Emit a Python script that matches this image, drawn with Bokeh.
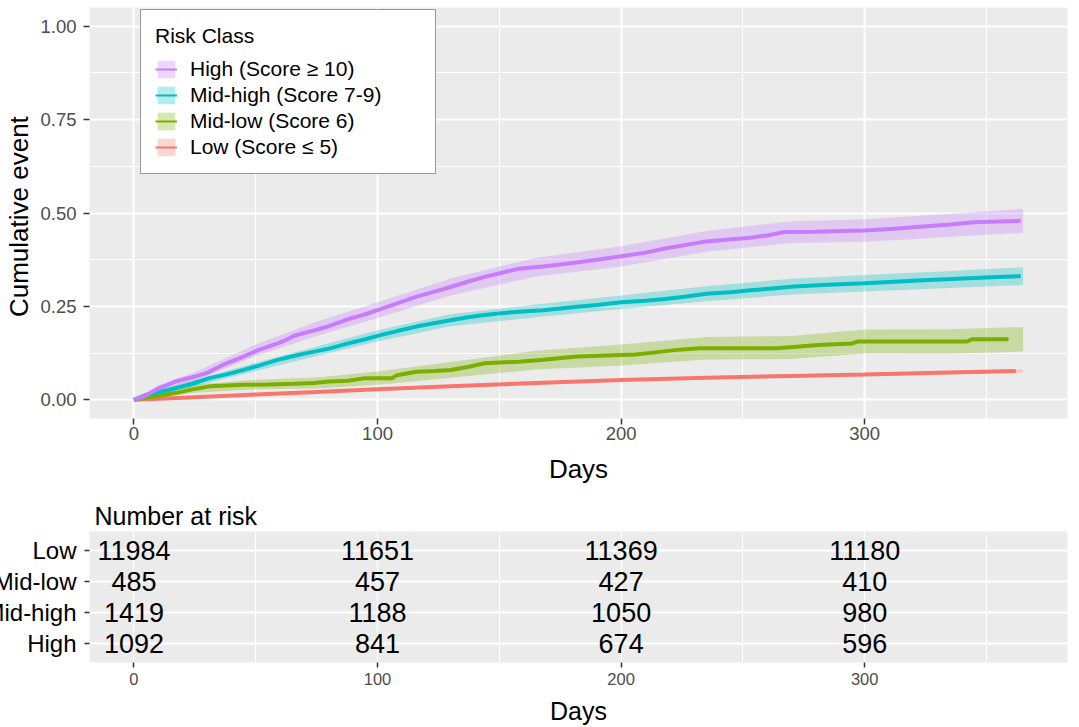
from bokeh.plotting import figure
from bokeh.models import (Range1d, FixedTicker, Legend, LegendItem, FactorRange,
                          ColumnDataSource, NumeralTickFormatter)
from bokeh.layouts import column
from bokeh.embed import file_html
from bokeh.resources import INLINE
from bokeh.core.properties import value

FONT = "Liberation Sans"

# ---------------- data ----------------
group_labels = ["High (Score ≥ 10)", "Mid-high (Score 7-9)", "Mid-low (Score 6)", "Low (Score ≤ 5)"]
group_colors = ["#C77CFF", "#00BFC4", "#7CAE00", "#F8766D"]

high_days = [0, 5, 10, 17, 25, 30, 37, 44, 51, 59, 63, 66, 74, 80, 88, 95, 100, 108, 116, 123,
             130, 137, 144, 151, 158, 168, 180, 190, 200, 210, 218, 226, 235, 245, 253, 260, 267,
             280, 290, 300, 312, 324, 335, 345, 355, 364]
high_est = [0, 0.012, 0.03, 0.049, 0.062, 0.072, 0.095, 0.113, 0.133, 0.151, 0.162, 0.172, 0.186,
            0.197, 0.216, 0.229, 0.240, 0.258, 0.276, 0.289, 0.302, 0.316, 0.329, 0.340, 0.351,
            0.357, 0.366, 0.375, 0.384, 0.394, 0.405, 0.414, 0.424, 0.430, 0.434, 0.440, 0.449,
            0.450, 0.452, 0.453, 0.458, 0.464, 0.469, 0.475, 0.477, 0.479]

midhigh_days = [0, 5, 10, 17, 24, 31, 38, 45, 52, 59, 66, 74, 80, 88, 95, 100, 108, 116, 123, 130,
                137, 144, 151, 158, 168, 182, 190, 200, 210, 218, 226, 235, 245, 253, 262, 271,
                285, 300, 312, 324, 338, 352, 364]
midhigh_est = [0, 0.013, 0.02, 0.031, 0.043, 0.058, 0.068, 0.08, 0.093, 0.107, 0.118, 0.129, 0.137,
               0.151, 0.162, 0.171, 0.184, 0.196, 0.205, 0.213, 0.221, 0.227, 0.232, 0.236, 0.240,
               0.249, 0.254, 0.261, 0.265, 0.270, 0.276, 0.284, 0.288, 0.293, 0.298, 0.303, 0.308,
               0.312, 0.316, 0.320, 0.324, 0.328, 0.331]

midlow_days = [0, 8, 17, 24, 31, 38, 45, 55, 66, 74, 80, 88, 95, 106, 108, 116, 123, 130, 137, 144,
               158, 168, 182, 200, 206, 214, 222, 232, 250, 264, 272, 281, 295, 297, 300, 342, 344, 359]
midlow_est = [0, 0.008, 0.018, 0.028, 0.036, 0.038, 0.04, 0.041, 0.043, 0.045, 0.049, 0.051, 0.058,
              0.058, 0.066, 0.075, 0.077, 0.08, 0.088, 0.098, 0.102, 0.107, 0.116, 0.12, 0.121,
              0.127, 0.133, 0.138, 0.138, 0.138, 0.142, 0.147, 0.151, 0.156, 0.156, 0.156, 0.162, 0.162]

low_days = [0, 25, 50, 75, 100, 130, 165, 200, 235, 270, 300, 335, 362]
low_est = [0, 0.007, 0.014, 0.021, 0.028, 0.036, 0.045, 0.053, 0.059, 0.064, 0.068, 0.073, 0.077]

band_days = [0, 10, 25, 50, 75, 100, 130, 165, 200, 235, 270, 300, 335, 365]
high_lo = [0, 0.022, 0.050, 0.117, 0.171, 0.219, 0.279, 0.330, 0.357, 0.396, 0.420, 0.423, 0.436, 0.447]
high_hi = [0, 0.038, 0.074, 0.149, 0.209, 0.261, 0.325, 0.380, 0.411, 0.452, 0.478, 0.483, 0.498, 0.511]
midhigh_lo = [0, 0.014, 0.036, 0.077, 0.117, 0.156, 0.197, 0.221, 0.243, 0.264, 0.282, 0.290, 0.299, 0.307]
midhigh_hi = [0, 0.026, 0.054, 0.099, 0.143, 0.186, 0.229, 0.255, 0.279, 0.304, 0.324, 0.334, 0.345, 0.355]
midlow_lo = [0, 0.006, 0.019, 0.028, 0.030, 0.040, 0.059, 0.081, 0.092, 0.108, 0.109, 0.124, 0.123, 0.129]
midlow_hi = [0, 0.018, 0.041, 0.054, 0.060, 0.076, 0.101, 0.131, 0.148, 0.168, 0.171, 0.188, 0.189, 0.195]
low_lo = [0, 0.002, 0.005, 0.012, 0.018, 0.025, 0.033, 0.042, 0.050, 0.055, 0.060, 0.064, 0.069, 0.073]
low_hi = [0, 0.004, 0.009, 0.016, 0.024, 0.031, 0.039, 0.048, 0.056, 0.063, 0.068, 0.072, 0.077, 0.081]

x_ticks = [0, 100, 200, 300]
x_minor = [50, 150, 250, 350]
y_ticks = [0, 0.25, 0.5, 0.75, 1.0]
y_minor = [0.125, 0.375, 0.625, 0.875]

risk_days = [0, 100, 200, 300]
risk_rows = ["Low", "Mid-low", "Mid-high", "High"]
risk_low = [11984, 11651, 11369, 11180]
risk_midlow = [485, 457, 427, 410]
risk_midhigh = [1419, 1188, 1050, 980]
risk_high = [1092, 841, 674, 596]

X0, X1 = -18.25, 383.25
BG = "#EBEBEB"
TICKCOL = "#4D4D4D"
W = 1093
LEFT = 108
RIGHT = 7


def style_axes(p):
    for ax in (p.xaxis[0], p.yaxis[0]):
        ax.axis_line_color = None
        ax.major_tick_line_color = "#333333"
        ax.major_tick_line_width = 1.5
        ax.major_tick_in = 0
        ax.major_tick_out = 6
        ax.minor_tick_line_color = None
        ax.major_label_text_font = FONT
        ax.major_label_text_color = TICKCOL
        ax.axis_label_text_font = FONT
        ax.axis_label_text_font_style = "normal"
        ax.axis_label_text_color = "black"
    for g in (p.xgrid[0], p.ygrid[0]):
        g.grid_line_color = "white"
        g.grid_line_width = 2
        g.minor_grid_line_color = "white"
        g.minor_grid_line_width = 1


# ---------------- cumulative event panel ----------------
p = figure(width=W, height=498, output_backend="svg", toolbar_location=None,
           x_range=Range1d(X0, X1), y_range=Range1d(-0.05, 1.05),
           min_border_left=LEFT, min_border_right=RIGHT, min_border_top=7, min_border_bottom=80,
           background_fill_color=BG, border_fill_color="white", outline_line_color=None)
p.xaxis.ticker = FixedTicker(ticks=x_ticks, minor_ticks=x_minor)
p.yaxis.ticker = FixedTicker(ticks=y_ticks, minor_ticks=y_minor)
p.yaxis.formatter = NumeralTickFormatter(format="0.00")
style_axes(p)
p.xaxis.major_label_text_font_size = "18.5px"
p.yaxis.major_label_text_font_size = "18.5px"
p.xaxis.axis_label = "Days"
p.xaxis.axis_label_text_font_size = "26px"
p.xaxis.major_label_standoff = 2
p.xaxis.axis_label_standoff = 11
p.yaxis.axis_label = "Cumulative  event"
p.yaxis.axis_label_text_font_size = "26px"
p.yaxis.major_label_standoff = 7
p.yaxis.axis_label_standoff = 3

series = [
    (high_days, high_est, high_lo, high_hi),
    (midhigh_days, midhigh_est, midhigh_lo, midhigh_hi),
    (midlow_days, midlow_est, midlow_lo, midlow_hi),
    (low_days, low_est, low_lo, low_hi),
]
bands = {}
keys = {}
order = [3, 2, 1, 0]
for i in order:
    d, e, lo, hi = series[i]
    bands[i] = p.varea(x=band_days, y1=lo, y2=hi, fill_color=group_colors[i], fill_alpha=0.3)
for i in order:
    d, e, lo, hi = series[i]
    p.line(x=d, y=e, line_color=group_colors[i], line_width=4)
    # thin core line of the same colour, used as the legend key
    keys[i] = p.line(x=d, y=e, line_color=group_colors[i], line_width=2)

legend = Legend(
    items=[LegendItem(label=group_labels[i], renderers=[bands[i], keys[i]]) for i in range(4)],
    location=(51, 244), title="Risk Class", margin=0, padding=14, spacing=2,
    glyph_width=22, glyph_height=22, label_standoff=13, label_width=231,
    label_text_font=FONT, label_text_font_size="21px", label_text_color="black",
    title_text_font=FONT, title_text_font_size="21px", title_text_font_style="normal",
    title_text_color="black", title_standoff=9,
    border_line_color="#333333", border_line_width=1.5,
    background_fill_color="white", background_fill_alpha=1.0)
p.add_layout(legend, "center")

# ---------------- number at risk table ----------------
r = figure(width=W, height=229, output_backend="svg", toolbar_location=None,
           x_range=Range1d(X0, X1),
           y_range=FactorRange(factors=risk_rows[::-1], range_padding=0.055),
           min_border_left=LEFT, min_border_right=RIGHT, min_border_top=33, min_border_bottom=65,
           background_fill_color=BG, border_fill_color="white", outline_line_color=None)
r.title.text = "Number at risk"
r.title.text_font = FONT
r.title.text_font_size = "25px"
r.title.text_font_style = "normal"
r.title.text_color = "black"
r.title.align = "left"
r.title.offset = 5
r.title.standoff = 3
r.xaxis.ticker = FixedTicker(ticks=x_ticks, minor_ticks=x_minor)
style_axes(r)
r.yaxis.major_label_text_font_size = "24px"
r.yaxis.major_label_text_color = "black"
r.yaxis.major_label_orientation = "horizontal"
r.yaxis.major_label_standoff = 8
r.yaxis.major_tick_out = 5
r.xaxis.major_tick_out = 5
r.xaxis.major_label_text_font_size = "16.5px"
r.xaxis.major_label_standoff = 5
r.xaxis.axis_label = "Days"
r.xaxis.axis_label_text_font_size = "25px"
r.xaxis.axis_label_standoff = 9
r.xgrid.grid_line_width = 1.3
r.ygrid.grid_line_width = 2

risk_counts = [risk_low, risk_midlow, risk_midhigh, risk_high]
tx, ty, tt = [], [], []
for name, counts in zip(risk_rows, risk_counts):
    for d, n in zip(risk_days, counts):
        tx.append(d)
        ty.append(name)
        tt.append(str(n))
src = ColumnDataSource(dict(x=tx, y=ty, text=tt))
r.text(x="x", y="y", text="text", source=src, text_align="center", text_baseline="middle",
       text_font=value(FONT), text_font_size="27px", text_color="black")

layout = column(p, r, spacing=0, margin=(0, 0, 0, -19))
open("out.html", "w").write(file_html(layout, INLINE))
